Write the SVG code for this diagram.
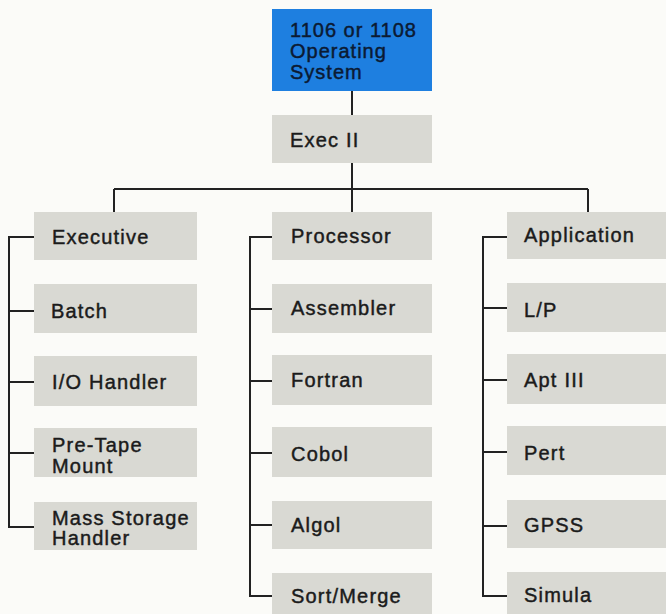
<svg xmlns="http://www.w3.org/2000/svg" width="666" height="614" viewBox="0 0 666 614">
<style>
.bg{fill:#fbfbf8}
.box{fill:#d9d9d3}
.top{fill:#1e7fe0}
.t{font-family:"Liberation Sans",Arial,sans-serif;font-size:20px;letter-spacing:1.2px;fill:#1b1b1b;stroke:#1b1b1b;stroke-width:0.45}
.tb{font-family:"Liberation Sans",Arial,sans-serif;font-size:20px;letter-spacing:1px;fill:#0b1a33;stroke:#0b1a33;stroke-width:0.45}
.ln{stroke:#222;stroke-width:2;fill:none}
</style>
<rect class="bg" x="0" y="0" width="666" height="614"/>
<g id="connectors">
<path class="ln" d="M352 91V115M352 163V212M114 189H588M114 189V212M588 189V212"/>
<path class="ln" d="M35 237H9V527H35M9 311H35M9 382H35M9 453H35"/>
<path class="ln" d="M272 237H250V596H272M250 309H272M250 381H272M250 453H272M250 525H272"/>
<path class="ln" d="M507 237H483V596H507M483 308H507M483 380H507M483 452H507M483 526H507"/>
</g>
<g id="os"><rect class="top" x="272" y="9" width="160" height="82"/><text class="tb" x="290" y="37">1106 or 1108</text><text class="tb" x="290" y="58">Operating</text><text class="tb" x="290" y="79">System</text></g>
<g id="exec2"><rect class="box" x="272" y="115" width="160" height="48"/><text class="t" x="290" y="147">Exec II</text></g>
<g id="executive"><rect class="box" x="34" y="212" width="163" height="48"/><text class="t" x="52" y="244">Executive</text></g>
<g id="batch"><rect class="box" x="34" y="284" width="163" height="49"/><text class="t" x="51" y="318">Batch</text></g>
<g id="iohandler"><rect class="box" x="34" y="356" width="163" height="50"/><text class="t" x="52" y="389">I/O Handler</text></g>
<g id="pretape"><rect class="box" x="34" y="428" width="163" height="49"/><text class="t" x="52" y="452">Pre-Tape</text><text class="t" x="52" y="473">Mount</text></g>
<g id="massstorage"><rect class="box" x="34" y="502" width="163" height="48"/><text class="t" x="52" y="525">Mass Storage</text><text class="t" x="52" y="545">Handler</text></g>
<g id="processor"><rect class="box" x="272" y="212" width="160" height="48"/><text class="t" x="291" y="243">Processor</text></g>
<g id="assembler"><rect class="box" x="272" y="284" width="160" height="49"/><text class="t" x="291" y="315">Assembler</text></g>
<g id="fortran"><rect class="box" x="272" y="355" width="160" height="50"/><text class="t" x="291" y="387">Fortran</text></g>
<g id="cobol"><rect class="box" x="272" y="427" width="160" height="50"/><text class="t" x="291" y="461">Cobol</text></g>
<g id="algol"><rect class="box" x="272" y="501" width="160" height="48"/><text class="t" x="291" y="532">Algol</text></g>
<g id="sortmerge"><rect class="box" x="272" y="573" width="160" height="48"/><text class="t" x="291" y="603">Sort/Merge</text></g>
<g id="application"><rect class="box" x="507" y="212" width="170" height="47"/><text class="t" x="524" y="242">Application</text></g>
<g id="lp"><rect class="box" x="507" y="283" width="170" height="49"/><text class="t" x="524" y="317">L/P</text></g>
<g id="apt3"><rect class="box" x="507" y="354" width="170" height="50"/><text class="t" x="524" y="387">Apt III</text></g>
<g id="pert"><rect class="box" x="507" y="426" width="170" height="49"/><text class="t" x="524" y="460">Pert</text></g>
<g id="gpss"><rect class="box" x="507" y="500" width="170" height="48"/><text class="t" x="524" y="532">GPSS</text></g>
<g id="simula"><rect class="box" x="507" y="572" width="170" height="48"/><text class="t" x="524" y="602">Simula</text></g>
</svg>
